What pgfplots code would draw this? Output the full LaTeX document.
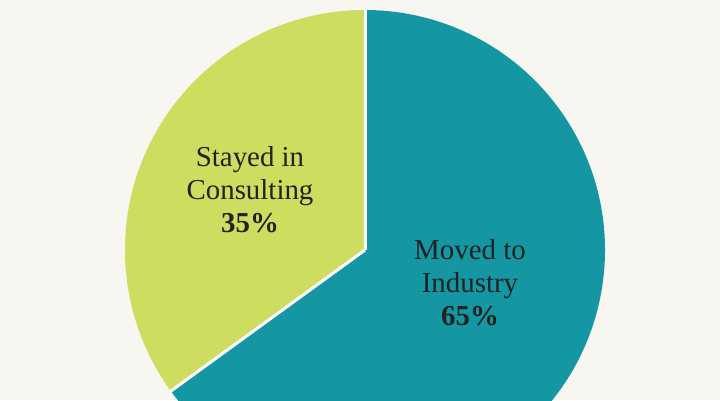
\documentclass[border=0pt]{standalone}
\usepackage{pgfplots}
\pgfplotsset{compat=1.18}
\usepackage{pgfplotstable}
\usepackage{fontspec}
\setmainfont{Liberation Serif}
\definecolor{bg}{HTML}{F7F6F0}
\definecolor{lime}{HTML}{CEDD5F}
\definecolor{tealc}{HTML}{1496A3}
\definecolor{ink}{HTML}{222222}

% share of respondents (%)
\pgfplotstableread{
share
35
65
}\pietable

\begin{document}
\begin{tikzpicture}
\pgfplotstablegetelem{0}{share}\of\pietable
\pgfmathsetmacro{\aone}{\pgfplotsretval*3.6}
\pgfplotstablegetelem{1}{share}\of\pietable
\pgfmathsetmacro{\atwo}{\pgfplotsretval*3.6}
\pgfmathsetmacro{\amid}{90+\aone}
\pgfmathsetmacro{\aend}{\amid+\atwo}
\begin{axis}[
  name=ax,
  scale only axis,
  width=720bp, height=400bp,
  xmin=0, xmax=720, ymin=0, ymax=400,
  y dir=reverse,
  axis lines=none, ticks=none,
  clip=true,
]
\fill[bg] (rel axis cs:0,0) rectangle (rel axis cs:1,1);
% wedges
\fill[lime] (axis cs:365,250) -- ++(90:240bp) arc[start angle=90, end angle=\amid, radius=240bp] -- cycle;
\fill[tealc] (axis cs:365,250) -- ++(\amid:240bp) arc[start angle=\amid, end angle=\aend, radius=240bp] -- cycle;
\draw[white, line width=3bp] (axis cs:365,250) -- ++(90:241bp);
\draw[white, line width=3bp] (axis cs:365,250) -- ++(\amid:241bp);
% labels
\node[ink, align=center, font=\fontsize{29}{33}\selectfont] at (axis cs:250,190)
  {Stayed in\\Consulting\\\textbf{35\%}};
\node[ink, align=center, font=\fontsize{29}{33}\selectfont] at (axis cs:470,283)
  {Moved to\\Industry\\\textbf{65\%}};
\end{axis}
\pgfresetboundingbox
\path (ax.south west) rectangle (ax.north east);
\end{tikzpicture}
\end{document}
